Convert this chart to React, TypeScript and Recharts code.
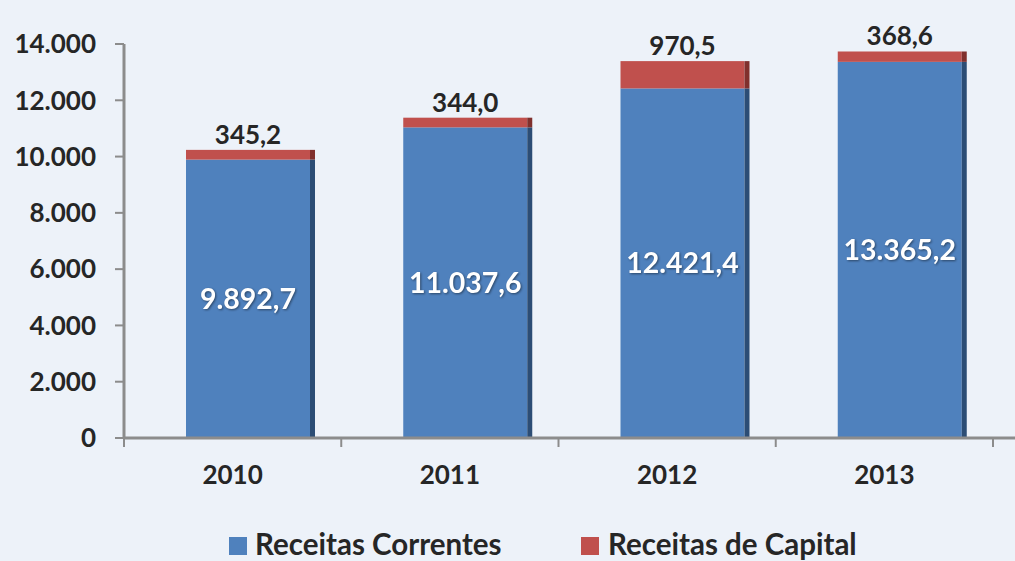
import { BarChart, Bar, XAxis, YAxis, Legend, LabelList } from 'recharts';

const years = ['2010', '2011', '2012', '2013'];
const correntes = [9892.7, 11037.6, 12421.4, 13365.2];
const capital = [345.2, 344.0, 970.5, 368.6];
const yTicks = [0, 2000, 4000, 6000, 8000, 10000, 12000, 14000];

const data = years.map((year, i) => ({
  year,
  correntes: correntes[i],
  capital: capital[i],
}));

const W = 1015;
const H = 561;
const FONT = 'Lato, "Open Sans", sans-serif';
const TEXT = '#262626';
const AXIS = '#8c8c8c';
const BLUE = '#4f81bd';
const BLUE_DARK = '#2c4d75';
const RED = '#c0504d';
const RED_DARK = '#80302d';
const SHIFT = 18; // excel 3d look pushes the bars a little to the right
const EDGE = 5;
const MARGIN = { top: 44, right: 22, left: 0, bottom: 5 };
const Y_W = 124;
const BAND = (W - Y_W - MARGIN.right) / years.length;

function fmtBR(v: number, dec: number) {
  const [i, f] = v.toFixed(dec).split('.');
  const int = i.replace(/\B(?=(\d{3})+(?!\d))/g, '.');
  return f ? int + ',' + f : int;
}

const makeShape = (dark: string) => (props: any) => {
  const { x, y, width, height, fill } = props;
  if (!height || height <= 0) return <g />;
  return (
    <g>
      <rect x={x + SHIFT} y={y} width={width - EDGE} height={height} fill={fill} />
      <rect x={x + SHIFT + width - EDGE} y={y} width={EDGE} height={height} fill={dark} />
    </g>
  );
};

const topLabel = (props: any) => {
  const { x, y, width, index } = props;
  return (
    <text
      x={x + width / 2 + SHIFT - EDGE / 2}
      y={y - 6}
      textAnchor="middle"
      fontFamily={FONT}
      fontWeight={700}
      fontSize={26}
      fill={TEXT}
    >
      {fmtBR(capital[index], 1)}
    </text>
  );
};

const innerLabel = (props: any) => {
  const { x, y, width, height, index } = props;
  return (
    <text
      x={x + width / 2 + SHIFT - EDGE / 2}
      y={y + height / 2}
      dy="0.35em"
      textAnchor="middle"
      fontFamily={FONT}
      fontWeight={700}
      fontSize={28.5}
      fill="#ffffff"
      style={{ filter: 'drop-shadow(1px 1px 1px rgba(0,0,0,0.45))' }}
    >
      {fmtBR(correntes[index], 1)}
    </text>
  );
};

const XTick = (props: any) => {
  const { x, y, payload, index } = props;
  const last = index === years.length - 1;
  return (
    <g>
      <line x1={x - BAND / 2} x2={x - BAND / 2} y1={y} y2={y + 9} stroke={AXIS} strokeWidth={2} />
      {last && (
        <>
          <line x1={x + BAND / 2} x2={x + BAND / 2} y1={y} y2={y + 9} stroke={AXIS} strokeWidth={2} />
          <line x1={x + BAND / 2} x2={W} y1={y} y2={y} stroke={AXIS} strokeWidth={3} />
        </>
      )}
      <text x={x} y={y + 46} textAnchor="middle" fontFamily={FONT} fontWeight={700} fontSize={26} fill={TEXT}>
        {payload.value}
      </text>
    </g>
  );
};

const renderLegend = () => (
  <div style={{ position: 'relative', width: W, height: 48, fontFamily: FONT, fontWeight: 700, fontSize: 29.5, color: TEXT }}>
    <div style={{ position: 'absolute', left: 229, top: 29, width: 18, height: 18, background: BLUE }} />
    <div style={{ position: 'absolute', left: 255, top: 20, lineHeight: '32px' }}>Receitas Correntes</div>
    <div style={{ position: 'absolute', left: 581, top: 29, width: 18, height: 18, background: RED }} />
    <div style={{ position: 'absolute', left: 608, top: 20, lineHeight: '32px' }}>Receitas de Capital</div>
  </div>
);

export default function App() {
  return (
    <div style={{ position: 'absolute', left: 0, top: 0, width: W, height: H, background: '#edf2f9', overflow: 'hidden' }}>
      <BarChart width={W} height={H} data={data} margin={MARGIN} barSize={129}>
        <XAxis
          dataKey="year"
          height={70}
          axisLine={{ stroke: AXIS, strokeWidth: 3 }}
          tickLine={false}
          tickSize={0}
          tickMargin={0}
          tick={<XTick />}
          interval={0}
        />
        <YAxis
          width={Y_W}
          domain={[0, 14000]}
          ticks={yTicks}
          interval={0}
          tickFormatter={(v: number) => fmtBR(v, 0)}
          axisLine={{ stroke: AXIS, strokeWidth: 3 }}
          tickLine={{ stroke: AXIS, strokeWidth: 2 }}
          tickSize={9}
          tickMargin={19}
          tick={{ fill: TEXT, fontFamily: FONT, fontWeight: 700, fontSize: 26 }}
        />
        <Legend verticalAlign="bottom" content={renderLegend} wrapperStyle={{ left: 0 }} />
        <Bar dataKey="correntes" stackId="a" fill={BLUE} shape={makeShape(BLUE_DARK)} isAnimationActive={false}>
          <LabelList dataKey="correntes" content={innerLabel} />
        </Bar>
        <Bar dataKey="capital" stackId="a" fill={RED} shape={makeShape(RED_DARK)} isAnimationActive={false}>
          <LabelList dataKey="capital" content={topLabel} />
        </Bar>
      </BarChart>
    </div>
  );
}
